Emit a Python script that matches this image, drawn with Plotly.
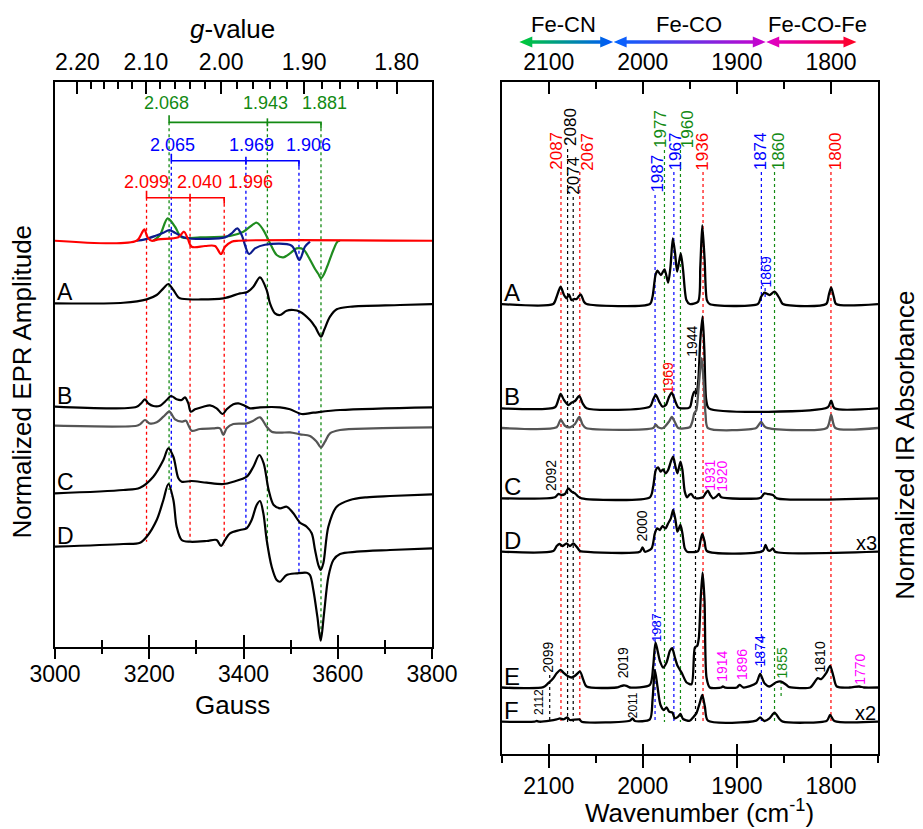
import plotly.graph_objects as go

FONT = "Arial, Liberation Sans, sans-serif"

# ===================== EPR panel (left) =====================
MW_FREQ_GHZ = 9.384                      # X-band frequency for g <-> field
H_NU = 714.477 * MW_FREQ_GHZ             # g * B (Gauss)
GAUSS_RANGE = [3000, 3800]
G_TICKS = [2.20, 2.10, 2.00, 1.90, 1.80]
G_TICK_TEXT = ["2.20", "2.10", "2.00", "1.90", "1.80"]
G_MINOR = [2.18, 2.16, 2.14, 2.12, 2.08, 2.06, 2.04, 2.02,
           1.98, 1.96, 1.94, 1.92, 1.88, 1.86, 1.84, 1.82]

# simulated g-tensors
G_GREEN = [2.068, 1.943, 1.881]
G_BLUE = [2.065, 1.969, 1.906]
G_RED = [2.099, 2.040, 1.996]
G_GREEN_LABEL_B = [3237, 3447, 3571]
G_BLUE_LABEL_B = [3249.8, 3418, 3537]
G_RED_LABEL_B = [3194.6, 3305.6, 3413.8]
BRACKET_LEVEL = {"green": 524.7, "blue": 486.3, "red": 449.3}
LABEL_LEVEL = {"green": 544, "blue": 502, "red": 465.3}
GUIDE_END_GREEN = [157, 100, 7]
GUIDE_END_BLUE = [150, 118, 74]
GUIDE_END_RED = [105.3, 107, 101]

# simulations (field G, amplitude a.u.)
SIM_GREEN_B = [3208.6, 3222.8, 3239.1, 3254.7, 3268.8, 3307.7, 3371.4, 3399.7, 3428.0, 3442.1,
               3456.3, 3470.4, 3484.5, 3498.7, 3512.8, 3527.0, 3537.6, 3551.8, 3558.9, 3564.5,
               3570.9, 3580.1, 3590.7, 3599.2, 3604.8]
SIM_GREEN = [406.3, 412.0, 428.7, 420.3, 409.7, 409.7, 411.0, 415.3, 424.3, 417.0,
             403.7, 392.0, 389.7, 393.7, 398.7, 397.7, 390.3, 378.0, 373.0, 368.7,
             373.0, 383.7, 397.0, 405.3, 406.3]
SIM_BLUE_B = [3173.3, 3191.0, 3212.2, 3229.9, 3242.6, 3254.6, 3272.3, 3290.0, 3360.7, 3374.9,
              3386.9, 3396.1, 3411.7, 3424.4, 3445.6, 3502.2, 3518.4, 3530.5, 3541.1]
SIM_BLUE = [406.3, 407.7, 411.0, 414.3, 417.0, 414.3, 409.7, 408.3, 409.7, 413.7,
            418.7, 412.0, 393.0, 398.7, 402.3, 401.3, 387.0, 400.3, 405.3]
SIM_RED_B = [3000, 3173.3, 3183.9, 3189.6, 3196.6, 3205.1, 3219.3, 3261.7, 3273.7, 3281.5,
             3290.0, 3318.3, 3339.5, 3352.3, 3360.8, 3374.9, 3389.1, 3800]
SIM_RED = [406.3, 406.3, 413.7, 417.7, 409.7, 406.3, 407.7, 409.7, 415.3, 408.7,
           400.3, 401.0, 401.0, 393.0, 400.3, 405.3, 406.3, 406.3]

# experimental spectra
EPR_A_B = [3000, 3145, 3194.6, 3215.8, 3230.0, 3240.5, 3251.2, 3261.8, 3268.9, 3357.3,
           3392.6, 3406.8, 3420.9, 3435.0, 3449.2, 3456.2, 3466.8, 3477.5, 3491.6, 3505.7,
           3519.9, 3541.1, 3551.8, 3564.5, 3571.0, 3583.6, 3597.8, 3626.0, 3732.1, 3800]
EPR_A = [343.7, 344.3, 347.7, 352.0, 358.7, 363.0, 357.0, 349.7, 348.3, 348.7,
         353.7, 354.7, 360.3, 369.7, 357.0, 343.7, 333.7, 332.0, 336.3, 337.0,
         335.3, 327.0, 320.3, 310.3, 317.0, 330.3, 337.7, 340.3, 342.0, 343.0]
EPR_B_B = [3000, 3173.3, 3183.9, 3191.0, 3198.0, 3208.6, 3222.8, 3236.9, 3246.1, 3258.1,
           3268.8, 3275.8, 3282.9, 3287.9, 3297.1, 3314.8, 3328.9, 3343.0, 3355.8, 3364.3,
           3378.4, 3389.0, 3399.6, 3413.7, 3435.0, 3477.4, 3498.6, 3523.4, 3548.1, 3604.7, 3800]
EPR_B = [240.3, 240.3, 244.3, 247.7, 243.7, 241.0, 241.3, 247.0, 251.0, 247.7,
         247.0, 249.7, 243.7, 235.3, 237.7, 240.3, 241.7, 238.7, 233.0, 237.7,
         242.7, 243.7, 242.0, 238.7, 239.7, 239.7, 237.7, 233.0, 234.3, 237.0, 239.7]
EPR_BG_B = [3000, 3173.3, 3180.4, 3191.0, 3200.2, 3215.8, 3230.0, 3242.7, 3254.7, 3268.8,
            3278.0, 3282.9, 3290.0, 3307.7, 3336.0, 3350.1, 3357.2, 3364.3, 3378.4, 3406.8,
            3420.9, 3435.0, 3449.2, 3459.8, 3477.4, 3498.6, 3519.9, 3541.1, 3555.2, 3564.4,
            3572.9, 3583.5, 3604.7, 3675.5, 3800]
EPR_BG = [221.3, 221.3, 222.7, 227.0, 223.7, 224.7, 230.3, 235.3, 227.7, 225.3,
          226.3, 222.0, 216.3, 218.0, 218.7, 218.7, 212.0, 218.7, 223.0, 223.7,
          226.3, 229.7, 220.3, 215.3, 214.3, 214.7, 212.7, 211.0, 205.3, 199.7,
          205.3, 213.7, 217.0, 218.7, 219.7]
EPR_C_B = [3000, 3145.0, 3180.4, 3208.6, 3230.0, 3240.5, 3251.2, 3261.8, 3268.8, 3290.0,
           3321.8, 3357.3, 3378.4, 3406.8, 3420.9, 3433.6, 3442.8, 3453.4, 3464.0, 3477.4,
           3491.7, 3505.8, 3520.0, 3534.1, 3544.7, 3551.8, 3558.8, 3563.8, 3569.4, 3580.0,
           3597.7, 3626.0, 3661.4, 3710.9, 3800]
EPR_C = [153.7, 157.0, 159.3, 170.3, 187.0, 198.7, 190.3, 168.7, 165.3, 166.0,
         164.3, 163.0, 165.3, 170.3, 180.3, 192.0, 183.7, 157.0, 142.0, 138.7,
         140.3, 133.7, 124.3, 120.3, 113.7, 97.0, 82.0, 77.0, 83.7, 120.3,
         140.3, 147.0, 149.7, 151.0, 152.7]
EPR_D_B = [3000, 3145, 3180.4, 3194.6, 3215.8, 3230.0, 3240.5, 3251.2, 3258.2, 3268.8,
           3286.5, 3321.8, 3343.0, 3352.2, 3360.7, 3371.3, 3392.6, 3406.7, 3417.3, 3427.9,
           3435.0, 3442.1, 3449.2, 3459.8, 3470.4, 3477.4, 3491.6, 3512.8, 3534.1, 3541.1,
           3548.2, 3556.7, 3563.8, 3570.9, 3580.1, 3590.7, 3604.8, 3640.1, 3710.9, 3800]
EPR_D = [100.3, 103.0, 104.3, 110.3, 127.0, 147.0, 163.0, 147.0, 120.3, 107.0,
         105.3, 106.0, 107.0, 101.0, 107.0, 113.7, 117.0, 118.7, 127.0, 142.0,
         146.0, 133.7, 107.0, 80.3, 67.0, 65.3, 72.0, 73.7, 74.3, 72.0,
         57.0, 30.3, 6.3, 33.7, 70.3, 87.0, 93.0, 95.3, 97.0, 98.7]
EPR_LETTERS = ["A", "B", "C", "D"]
EPR_LETTER_Y = [343.7, 240.3, 153.7, 100.3]

# ===================== IR panel (right) =====================
WN_RANGE = [2150, 1750]
IR_OFFSET = {"A": 450, "B": 345.7, "Bg": 326, "C": 255.7, "D": 202.3, "E": 66.5, "F": 32.3}

IR_A_WN = [2150, 2095.2, 2091.6, 2087.4, 2083.8, 2081.0, 2078.5, 2076.0, 2073.2, 2070.4, 2066.1,
           2062.6, 2059.8, 1992.5, 1989.7, 1986.5, 1984.4, 1980.8, 1976.9, 1973.1, 1970.6,
           1968.1, 1965.7, 1963.5, 1959.7, 1957.2, 1953.7, 1950.1, 1941.3, 1938.9, 1936.8,
           1934.3, 1931.9, 1929.0, 1877.7, 1874.2, 1870.7, 1865.3, 1860.0, 1854.7, 1851.1,
           1805.1, 1802.3, 1799.8, 1797.0, 1794.5, 1750]
IR_A = [0, 0, 7.3, 17.3, 9.0, 5.7, 9.7, 4.0, 5.0, 5.0, 9.7,
        2.3, 0, 0, 7.3, 29.0, 33.3, 29.0, 34.7, 21.3, 37.3,
        65.7, 50.7, 32.3, 50.7, 34.0, 4.0, 0, 2.3, 37.3, 79.0,
        44.0, 4.0, 0, 0, 7.3, 11.3, 9.0, 12.3, 5.7, 0,
        0, 9.0, 16.7, 7.3, 0, 0]
IR_B_WN = [2150, 2093.4, 2089.9, 2087.4, 2083.8, 2079.2, 2075.7, 2072.1, 2067.5, 2064.0, 2059.8,
           1992.5, 1989.0, 1986.2, 1982.6, 1979.1, 1975.5, 1972.0, 1969.2, 1966.0, 1962.5,
           1959.0, 1950.1, 1947.3, 1945.2, 1943.1, 1941.0, 1938.9, 1936.5, 1934.6, 1932.6,
           1929.7, 1803.3, 1799.8, 1796.3, 1750]
IR_B = [0, 1.0, 8.3, 14.3, 8.3, 3.3, 5.7, 7.3, 12.3, 5.0, 0,
        1.7, 9.0, 13.3, 6.7, 1.7, 3.3, 11.7, 15.7, 8.3, 1.0,
        0, 1.0, 11.7, 16.7, 15.0, 28.3, 68.3, 92.0, 58.3, 8.3,
        0, 1.0, 7.7, 0, 0]
IR_BG_WN = [2150, 2091.6, 2087.4, 2082.8, 2077.5, 2072.1, 2067.5, 2064.0, 2060.5, 1989.0, 1986.2,
            1983.7, 1978.4, 1972.0, 1969.2, 1966.0, 1962.5, 1950.1, 1947.3, 1945.2, 1943.1,
            1940.3, 1937.5, 1935.3, 1933.3, 1930.8, 1879.5, 1876.7, 1874.2, 1870.7, 1867.1,
            1804.4, 1799.8, 1795.3, 1750]
IR_BG = [0, 0.7, 8.3, 2.3, 0.7, 4.0, 11.0, 3.3, 0, 0, 3.3,
         0.7, 0, 6.7, 11.0, 6.0, 0, 0.7, 6.7, 15.0, 18.0,
         45.0, 70.0, 45.0, 13.3, 0, 0, 3.3, 6.0, 1.7, 0,
         0, 13.0, 0, 0]
IR_C_WN = [2150, 2093.4, 2089.9, 2086.3, 2082.8, 2079.2, 2075.7, 2072.1, 2068.6, 2065.1, 1992.5,
           1989.0, 1986.2, 1983.7, 1981.2, 1978.4, 1975.9, 1973.1, 1970.2, 1967.8, 1965.3,
           1963.2, 1960.0, 1957.9, 1955.4, 1952.9, 1950.8, 1948.3, 1945.9, 1943.1, 1936.1,
           1933.3, 1930.8, 1928.3, 1925.5, 1922.0, 1919.1, 1916.6, 1877.0, 1874.2, 1870.7,
           1867.1, 1861.8, 1857.5, 1750]
IR_C = [0, 1.0, 4.3, 3.3, 4.3, 10.0, 6.7, 5.0, 1.7, 0, 1.0,
        11.7, 28.3, 31.0, 26.7, 29.0, 25.0, 28.3, 36.7, 41.7, 31.7,
        25.0, 36.7, 28.3, 6.7, 1.0, 3.3, 4.3, 1.0, 0, 1.0,
        5.0, 7.7, 3.3, 0, 1.7, 4.3, 1.0, 0, 1.0, 5.0,
        4.3, 3.3, 0, 0]
IR_D_WN = [2150, 2095.2, 2091.6, 2088.8, 2085.2, 2081.0, 2077.5, 2073.9, 2070.4, 2066.8, 2063.3,
           2003.1, 2000.3, 1997.8, 1990.7, 1987.2, 1984.8, 1981.9, 1979.1, 1975.9, 1973.1,
           1970.2, 1967.8, 1965.3, 1963.2, 1960.0, 1957.9, 1955.4, 1952.9, 1941.3, 1938.9,
           1936.8, 1934.3, 1931.9, 1872.4, 1869.6, 1867.1, 1864.6, 1861.8, 1859.3, 1750]
IR_D = [0, 0.7, 5.7, 7.7, 5.7, 8.3, 5.7, 8.3, 5.0, 0.7, 0,
        0, 4.3, 0, 3.3, 18.3, 23.3, 21.7, 25.7, 23.3, 28.3,
        33.3, 41.7, 31.7, 20.0, 26.7, 18.3, 3.3, 0, 0.7, 10.0,
        17.7, 10.0, 0.7, 0.7, 6.7, 1.7, 1.0, 3.3, 0, 0]
IR_E_WN = [2150, 2105.8, 2100.5, 2095.2, 2091.6, 2087.4, 2083.8, 2080.3, 2075.7, 2072.1, 2066.8,
           2063.3, 2059.8, 2028.0, 2024.4, 2020.8, 2017.3, 2013.8, 1992.5, 1989.0, 1986.5,
           1981.9, 1978.4, 1974.8, 1971.2, 1968.8, 1965.9, 1963.1, 1958.8, 1953.5, 1948.2,
           1944.7, 1942.2, 1940.4, 1938.6, 1936.5, 1934.4, 1932.3, 1928.8, 1916.5, 1914.9,
           1912.5, 1900.0, 1897.2, 1893.0, 1879.5, 1875.3, 1870.7, 1865.3, 1858.2, 1852.9,
           1847.6, 1844.1, 1822.0, 1819.3, 1814.0, 1810.4, 1805.1, 1800.9, 1797.3, 1793.8,
           1780.0, 1770.0, 1765.0, 1750]
IR_E = [0, 0.3, 4.3, 9.3, 14.3, 17.7, 14.3, 11.7, 10.0, 11.7, 16.0,
        7.7, 1.0, 0, 1.0, 2.0, 1.7, 0, 2.7, 21.0, 45.0,
        26.7, 20.0, 25.0, 36.7, 39.3, 30.0, 21.7, 15.0, 5.0, 3.3,
        40.0, 41.7, 50.0, 86.7, 115.0, 86.7, 10.0, 0, 0, 1.0,
        0, 0, 2.7, 0, 4.3, 13.7, 4.3, 1.0, 5.3, 6.0,
        2.7, 0.3, 0, 2.7, 9.3, 8.3, 14.3, 21.7, 11.0, 1.0,
        0, 1.0, 0, 0]
IR_F_WN = [2150, 2115.0, 2112.8, 2110.0, 2098.7, 2091.6, 2088.1, 2084.5, 2080.3, 2077.5, 2067.5,
           2065.1, 2013.8, 2010.9, 2008.4, 1992.5, 1989.7, 1987.2, 1984.4, 1981.2, 1977.6,
           1974.8, 1972.0, 1968.5, 1966.0, 1962.5, 1960.0, 1957.2, 1950.1, 1945.9, 1943.1,
           1939.6, 1936.8, 1934.0, 1930.8, 1879.5, 1875.3, 1870.7, 1865.3, 1860.0, 1854.7,
           1851.1, 1804.4, 1800.9, 1796.3, 1750]
IR_F = [0, 0, 0.7, 0, 1.0, 2.3, 3.3, 2.3, 4.3, 1.7, 2.3,
        0, 1.0, 3.3, 0.7, 2.3, 21.7, 51.7, 35.0, 16.7, 11.7,
        14.3, 10.0, 9.0, 3.3, 5.0, 7.7, 2.7, 1.0, 5.0, 8.3,
        18.3, 26.7, 15.0, 1.0, 1.0, 4.3, 0.7, 3.3, 9.0, 2.7,
        0, 1.0, 6.7, 0.7, 0]
IR_LETTERS = ["A", "B", "C", "D", "E", "F"]
IR_LETTER_KEYS = ["A", "B", "C", "D", "E", "F"]

# assignment guide lines across all spectra
IR_LINE_WN = [2087, 2080, 2074, 2067, 1987, 1977, 1967, 1960, 1936, 1874, 1860, 1800]
IR_LINE_COLOR = ["red", "black", "black", "red", "blue", "green", "blue", "green", "red", "blue", "green", "red"]
IR_LINE_TOP = [582, 605, 557, 582, 559, 604, 582, 604, 582, 582, 582, 582]
IR_LINE_BOTTOM = 32
IR_LABEL_X = [2092.6, 2077.5, 2074.6, 2059.0, 1985.4, 1981.9, 1964.9, 1952.9, 1936.9, 1874.6, 1855.5, 1794.9]
IR_LABEL_Y = [603, 627, 578, 602.5, 580, 625, 602.5, 625, 602.5, 602.5, 602.5, 602.5]

# local band annotations
IR_NOTE_TEXT = ["1869", "1944", "1969", "2092", "1931", "1920", "2000", "1987", "2099", "2019",
                "1914", "1896", "1874", "1855", "1810", "1770", "2112", "2011"]
IR_NOTE_X = [1868.6, 1947.6, 1973.0, 2097.6, 1928.8, 1915.7, 2001.3, 1985.4, 2101.6, 2020.8,
             1915.7, 1894.5, 1875.0, 1851.6, 1811.9, 1769.4, 2111.1, 2010.9]
IR_NOTE_Y = [482, 412.3, 376, 278, 279, 277.3, 228, 126.5, 96.5, 91,
             87.3, 89, 103, 91, 97.3, 85, 52.3, 48.3]
IR_NOTE_COLOR = ["blue", "black", "red", "black", "magenta", "magenta", "black", "blue", "black", "black",
                 "magenta", "magenta", "blue", "green", "black", "magenta", "black", "black"]
IR_NOTE_SIZE = [14, 14, 14, 14, 14, 14, 14, 13, 14, 14, 14, 14, 14, 14, 14, 14, 12, 12]
IR_LEADER_WN = [1944, 2099, 1870, 1853]
IR_LEADER_COLOR = ["black", "black", "blue", "green"]
IR_LEADER_TOP = [396, 79, 466, 73]
IR_LEADER_BOTTOM = [32, 34, 457, 57]
IR_SCALE_TEXT = ["x3", "x2"]
IR_SCALE_X = [1762.5, 1763.2]
IR_SCALE_Y = [210.7, 40.7]

# band-region arrows on top
REGION_TEXT = ["Fe-CN", "Fe-CO", "Fe-CO-Fe"]
REGION_TEXT_X = [2083.8, 1951.0, 1813.8]
REGION_FROM = [2131.3, 2031.0, 1868.8]
REGION_TO = [2031.5, 1869.3, 1772.9]
REGION_COLORS = [("#00cc33", "#0055ff"), ("#0066ff", "#cc00cc"), ("#dd00cc", "#ff0022")]

COL = {"red": "#ff0000", "blue": "#0000ff", "green": "#138a13", "black": "#000000",
       "magenta": "#ff00ff", "navy": "#0b1b8c", "simgreen": "#1f8c1f", "gray": "#555555"}

fig = go.Figure()


def add_line(x, y, color, width, xa, ya, shape="spline", smoothing=0.9, dash=None):
    fig.add_trace(go.Scatter(x=x, y=y, mode="lines",
                             line=dict(color=color, width=width, shape=shape,
                                       smoothing=smoothing, dash=dash),
                             xaxis=xa, yaxis=ya, hoverinfo="skip", showlegend=False))


def vlines(xs, tops, bottoms):
    X, Y = [], []
    for x, t, b in zip(xs, tops, bottoms):
        X += [x, x, None]
        Y += [t, b, None]
    return X, Y


# ---------- left panel guides ----------
for key, gs, ends in [("green", G_GREEN, GUIDE_END_GREEN), ("blue", G_BLUE, GUIDE_END_BLUE),
                      ("red", G_RED, GUIDE_END_RED)]:
    fields = [H_NU / g for g in gs]
    top = BRACKET_LEVEL[key]
    X, Y = vlines(fields, [top] * 3, ends)
    add_line(X, Y, COL[key], 1.3, "x", "y", shape="linear", dash="dot")
    bx = [fields[0], fields[0], fields[2], fields[2], None, fields[1], fields[1]]
    by = [top + 7, top, top, top - 6, None, top + 4, top - 4]
    add_line(bx, by, COL[key], 1.6, "x", "y", shape="linear")

# ---------- left panel spectra ----------
add_line(EPR_A_B, EPR_A, "black", 2.2, "x", "y")
add_line(EPR_B_B, EPR_B, "black", 2.2, "x", "y")
add_line(EPR_BG_B, EPR_BG, COL["gray"], 2.2, "x", "y")
add_line(EPR_C_B, EPR_C, "black", 2.2, "x", "y")
add_line(EPR_D_B, EPR_D, "black", 2.2, "x", "y")
add_line(SIM_GREEN_B, SIM_GREEN, COL["simgreen"], 2.2, "x", "y")
add_line(SIM_BLUE_B, SIM_BLUE, COL["navy"], 2.2, "x", "y")
add_line(SIM_RED_B, SIM_RED, COL["red"], 2.2, "x", "y")

# ---------- right panel guides ----------
for cname in ["red", "black", "blue", "green"]:
    xs = [w for w, c in zip(IR_LINE_WN, IR_LINE_COLOR) if c == cname]
    ts = [t for t, c in zip(IR_LINE_TOP, IR_LINE_COLOR) if c == cname]
    X, Y = vlines(xs, ts, [IR_LINE_BOTTOM] * len(xs))
    add_line(X, Y, COL[cname], 1.2, "x2", "y2", shape="linear", dash="dot")
for w, c, t, b in zip(IR_LEADER_WN, IR_LEADER_COLOR, IR_LEADER_TOP, IR_LEADER_BOTTOM):
    add_line([w, w], [t, b], COL[c], 1.2, "x2", "y2", shape="linear", dash="dot")

# ---------- right panel spectra ----------
IR_SERIES = [("A", IR_A_WN, IR_A, "black"), ("B", IR_B_WN, IR_B, "black"),
             ("Bg", IR_BG_WN, IR_BG, COL["gray"]), ("C", IR_C_WN, IR_C, "black"),
             ("D", IR_D_WN, IR_D, "black"), ("E", IR_E_WN, IR_E, "black"),
             ("F", IR_F_WN, IR_F, "black")]
for key, wn, amp, col in IR_SERIES:
    add_line(wn, [IR_OFFSET[key] + a for a in amp], col, 2.3, "x2", "y2", smoothing=0.7)

# ---------- region arrows ----------
HEAD_LEN, HEAD_HALF, SHAFT_HALF = 13.8, 0.55, 0.17
for a, b, (c1, c2) in zip(REGION_FROM, REGION_TO, REGION_COLORS):
    xs = [a, a - HEAD_LEN, a - HEAD_LEN, b + HEAD_LEN, b + HEAD_LEN, b,
          b + HEAD_LEN, b + HEAD_LEN, a - HEAD_LEN, a - HEAD_LEN, a]
    ys = [0, HEAD_HALF, SHAFT_HALF, SHAFT_HALF, HEAD_HALF, 0,
          -HEAD_HALF, -SHAFT_HALF, -SHAFT_HALF, -HEAD_HALF, 0]
    fig.add_trace(go.Scatter(x=xs, y=ys, mode="lines", fill="toself",
                             line=dict(width=0, color="rgba(0,0,0,0)"),
                             fillcolor=c1,
                             fillgradient=dict(type="horizontal",
                                               colorscale=[[0, c1], [1, c2]]),
                             xaxis="x7", yaxis="y3", hoverinfo="skip", showlegend=False))

# dummy traces so overlay axes exist
for xa, ya, xv in [("x3", "y", 3000), ("x4", "y", 3000), ("x5", "y2", 2150), ("x6", "y2", 2150)]:
    fig.add_trace(go.Scatter(x=[xv], y=[0], mode="markers", marker=dict(opacity=0),
                             xaxis=xa, yaxis=ya, hoverinfo="skip", showlegend=False))

# ---------- annotations ----------
ann = []


def note(**kw):
    d = dict(showarrow=False, xanchor="center", yanchor="middle")
    d.update(kw)
    ann.append(d)


for key, labels_b in [("green", G_GREEN_LABEL_B), ("blue", G_BLUE_LABEL_B), ("red", G_RED_LABEL_B)]:
    gs = {"green": G_GREEN, "blue": G_BLUE, "red": G_RED}[key]
    for g, xb in zip(gs, labels_b):
        note(x=xb, y=LABEL_LEVEL[key], xref="x", yref="y", text=f"{g:.3f}",
             font=dict(size=18, color=COL[key], family=FONT))
for t, yv in zip(EPR_LETTERS, EPR_LETTER_Y):
    note(x=GAUSS_RANGE[0], y=yv, xref="x", yref="y", text=t, xanchor="left",
         yanchor="bottom", yshift=-4, font=dict(size=23, color="black", family=FONT))
for t, key in zip(IR_LETTERS, IR_LETTER_KEYS):
    note(x=WN_RANGE[0], y=IR_OFFSET[key], xref="x2", yref="y2", text=t, xanchor="left",
         yanchor="bottom", yshift=-4, font=dict(size=24, color="black", family=FONT))
for w, c, lx, ly in zip(IR_LINE_WN, IR_LINE_COLOR, IR_LABEL_X, IR_LABEL_Y):
    note(x=lx, y=ly, xref="x2", yref="y2", text=str(w), textangle=-90,
         font=dict(size=17, color=COL[c], family=FONT))
for t, x, y, c, s in zip(IR_NOTE_TEXT, IR_NOTE_X, IR_NOTE_Y, IR_NOTE_COLOR, IR_NOTE_SIZE):
    note(x=x, y=y, xref="x2", yref="y2", text=t, textangle=-90,
         font=dict(size=s, color=COL[c], family=FONT))
for t, x, y in zip(IR_SCALE_TEXT, IR_SCALE_X, IR_SCALE_Y):
    note(x=x, y=y, xref="x2", yref="y2", text=t, font=dict(size=20, color="black", family=FONT))
for t, x in zip(REGION_TEXT, REGION_TEXT_X):
    note(x=x, y=0.968, xref="x2", yref="paper", text=t, font=dict(size=22, color="black", family=FONT))
TITLE_FONT = dict(size=26, color="black", family=FONT)
note(x=0.2151, y=0.962, xref="paper", yref="paper", text="<i>g</i>-value", font=TITLE_FONT)
note(x=0.2151, y=0.065, xref="paper", yref="paper", text="Gauss", font=TITLE_FONT)
note(x=-0.0401, y=0.494, xref="paper", yref="paper", text="Normalized EPR Amplitude",
     textangle=-90, font=TITLE_FONT)
note(x=0.7837, y=-0.0756, xref="paper", yref="paper", text="Wavenumber (cm<sup>-1</sup>)", font=TITLE_FONT)
note(x=1.0328, y=0.41, xref="paper", yref="paper", text="Normalized IR Absorbance",
     textangle=-90, font=TITLE_FONT)

TICKFONT = dict(size=23, color="black", family=FONT)
base = dict(showgrid=False, zeroline=False, tickcolor="black", tickwidth=2)

fig.update_layout(
    width=923, height=829, margin=dict(l=55, r=45, t=0, b=75),
    paper_bgcolor="white", plot_bgcolor="white", showlegend=False,
    font=dict(family=FONT, color="black"),
    annotations=ann,
    # Gauss axis: labelled axis carries the inner half of the crossing ticks
    xaxis=dict(domain=[0, 0.4581], anchor="y", range=GAUSS_RANGE, tickmode="linear", tick0=3000,
               dtick=200, ticks="inside", ticklen=12,
               minor=dict(dtick=100, tick0=3000, ticks="inside", ticklen=7, tickwidth=2, tickcolor="black"),
               showline=True, linecolor="black", linewidth=2, mirror=True, tickfont=TICKFONT,
               ticklabelstandoff=5, **base),
    xaxis3=dict(overlaying="x", anchor="y", side="bottom", range=GAUSS_RANGE, tickmode="linear",
                tick0=3000, dtick=200, ticks="outside", ticklen=11,
                minor=dict(dtick=100, tick0=3000, ticks="outside", ticklen=6, tickwidth=2, tickcolor="black"),
                showticklabels=False, showline=False, **base),
    xaxis4=dict(overlaying="x", anchor="y", side="top", range=GAUSS_RANGE, tickmode="array",
                tickvals=[H_NU / g for g in G_TICKS], ticktext=G_TICK_TEXT, ticks="inside", ticklen=12,
                minor=dict(tickmode="array", tickvals=[H_NU / g for g in G_MINOR], ticks="inside",
                           ticklen=7, tickwidth=2, tickcolor="black"),
                showline=True, linecolor="black", linewidth=2, tickfont=TICKFONT,
                ticklabelstandoff=1, **base),
    yaxis=dict(domain=[0.1419, 0.8912], anchor="x", range=[0, 565], showticklabels=False, ticks="",
               showline=True, linecolor="black", linewidth=2, mirror=True, showgrid=False, zeroline=False),
    xaxis2=dict(domain=[0.5428, 1], anchor="y2", range=WN_RANGE, tickmode="linear", tick0=2100,
                dtick=100, ticks="inside", ticklen=10,
                showline=True, linecolor="black", linewidth=2, mirror=True, tickfont=TICKFONT,
                ticklabelstandoff=10, **base),
    xaxis5=dict(overlaying="x2", anchor="y2", side="bottom", range=WN_RANGE, tickmode="linear",
                tick0=2100, dtick=100, ticks="outside", ticklen=13,
                minor=dict(dtick=50, tick0=2100, ticks="outside", ticklen=8, tickwidth=2, tickcolor="black"),
                showticklabels=False, showline=False, **base),
    xaxis6=dict(overlaying="x2", anchor="y2", side="top", range=WN_RANGE, tickmode="linear",
                tick0=2100, dtick=100, ticks="inside", ticklen=12,
                minor=dict(dtick=50, tick0=2100, ticks="inside", ticklen=7, tickwidth=2, tickcolor="black"),
                showline=True, linecolor="black", linewidth=2, tickfont=TICKFONT,
                ticklabelstandoff=1, **base),
    yaxis2=dict(domain=[0, 0.8912], anchor="x2", range=[0, 672], showticklabels=False, ticks="",
                showline=True, linecolor="black", linewidth=2, mirror=True, showgrid=False, zeroline=False),
    xaxis7=dict(domain=[0.5428, 1], anchor="y3", range=WN_RANGE, visible=False),
    yaxis3=dict(domain=[0.9284, 0.9602], anchor="x7", range=[-1.2, 1.2], visible=False),
)

fig.write_html("out.html", config={"displayModeBar": False},
               post_script="document.body.style.margin='0px';")
